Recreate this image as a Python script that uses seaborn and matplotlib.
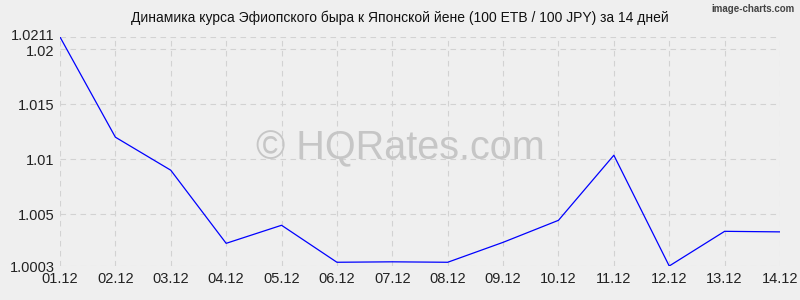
import matplotlib
matplotlib.use("Agg")
import matplotlib.pyplot as plt
import matplotlib.transforms as mtransforms
import seaborn as sns
import pandas as pd

dates = ["01.12", "02.12", "03.12", "04.12", "05.12", "06.12", "07.12",
         "08.12", "09.12", "10.12", "11.12", "12.12", "13.12", "14.12"]
rates = [1.0211, 1.0120, 1.0090, 1.00236, 1.0040, 1.00064, 1.00068,
         1.00064, 1.00245, 1.00445, 1.01036, 1.0003, 1.00345, 1.0034]
ytick_vals = [1.0003, 1.005, 1.01, 1.015, 1.02, 1.0211]
ytick_labels = ["1.0003", "1.005", "1.01", "1.015", "1.02", "1.0211"]
title = "Динамика курса Эфиопского быра к Японской йене (100 ETB / 100 JPY) за 14 дней"

sns.set_theme(style="white")
plt.rcParams["font.family"] = ["Liberation Sans", "DejaVu Sans"]

bg = "#efefef"
fig = plt.figure(figsize=(8, 3), dpi=100, facecolor=bg)
ax = fig.add_axes([0.075, 0.1133, 0.9, 0.7634])
ax.set_facecolor(bg)

df = pd.DataFrame({"x": range(len(dates)), "rate": rates})
sns.lineplot(data=df, x="x", y="rate", ax=ax, color="#0000ff", linewidth=0.9)

ax.set_xlim(0, len(dates) - 1)
ax.set_ylim(min(ytick_vals), max(ytick_vals))
ax.set_xticks(range(len(dates)))
ax.set_xticklabels(dates)
ax.set_yticks(ytick_vals)
ax.set_yticklabels(ytick_labels)
ax.tick_params(axis="both", labelsize=10.5, colors="#222222", length=0, pad=4)
ax.set_xlabel("")
ax.set_ylabel("")
for s in ax.spines.values():
    s.set_visible(False)
ax.grid(True, color="#d2d2d2", linestyle=(0, (5, 4)), linewidth=0.8)

# nudge the two crowded top labels apart slightly
ylabels = ax.get_yticklabels()
ylabels[-1].set_transform(ylabels[-1].get_transform() +
                          mtransforms.ScaledTranslation(0, 1.5 / 72, fig.dpi_scale_trans))
ylabels[-2].set_transform(ylabels[-2].get_transform() +
                          mtransforms.ScaledTranslation(0, -1.0 / 72, fig.dpi_scale_trans))

fig.text(0.5, 0.505, "© HQRates.com", ha="center", va="center",
         fontsize=28.5, color="#c6c6c6", zorder=0)

fig.text(0.5, 0.94, title, ha="center", va="center", fontsize=10, color="#111111")
fig.text(0.993, 0.97, "image-charts.com", ha="right", va="center", fontsize=7,
         color="#444444", fontweight="bold")

fig.savefig("out.png", dpi=100, facecolor=bg)
